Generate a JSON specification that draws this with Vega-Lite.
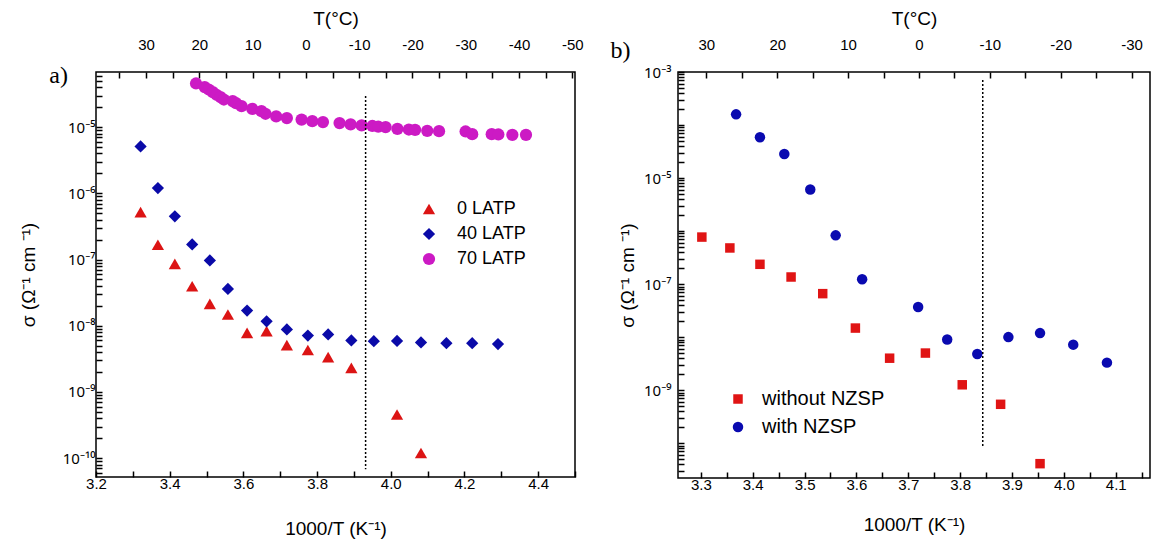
{
  "$schema": "https://vega.github.io/schema/vega-lite/v6.json",
  "padding": {"left": 18, "top": 8, "right": 0, "bottom": 5},
  "background": "white",
  "datasets": {
    "a": [
      {"x": 3.321, "sigma": 5.2e-7, "sample": "0 LATP"},
      {"x": 3.368, "sigma": 1.67e-7, "sample": "0 LATP"},
      {"x": 3.414, "sigma": 8.6e-8, "sample": "0 LATP"},
      {"x": 3.461, "sigma": 3.96e-8, "sample": "0 LATP"},
      {"x": 3.509, "sigma": 2.14e-8, "sample": "0 LATP"},
      {"x": 3.558, "sigma": 1.48e-8, "sample": "0 LATP"},
      {"x": 3.610, "sigma": 7.8e-9, "sample": "0 LATP"},
      {"x": 3.663, "sigma": 8.3e-9, "sample": "0 LATP"},
      {"x": 3.718, "sigma": 5.1e-9, "sample": "0 LATP"},
      {"x": 3.775, "sigma": 4.3e-9, "sample": "0 LATP"},
      {"x": 3.830, "sigma": 3.36e-9, "sample": "0 LATP"},
      {"x": 3.893, "sigma": 2.31e-9, "sample": "0 LATP"},
      {"x": 4.017, "sigma": 4.56e-10, "sample": "0 LATP"},
      {"x": 4.082, "sigma": 1.2e-10, "sample": "0 LATP"},
      {"x": 3.321, "sigma": 5.1e-6, "sample": "40 LATP"},
      {"x": 3.368, "sigma": 1.2e-6, "sample": "40 LATP"},
      {"x": 3.414, "sigma": 4.5e-7, "sample": "40 LATP"},
      {"x": 3.461, "sigma": 1.69e-7, "sample": "40 LATP"},
      {"x": 3.509, "sigma": 9.7e-8, "sample": "40 LATP"},
      {"x": 3.558, "sigma": 3.6e-8, "sample": "40 LATP"},
      {"x": 3.610, "sigma": 1.7e-8, "sample": "40 LATP"},
      {"x": 3.663, "sigma": 1.17e-8, "sample": "40 LATP"},
      {"x": 3.718, "sigma": 8.8e-9, "sample": "40 LATP"},
      {"x": 3.775, "sigma": 7.1e-9, "sample": "40 LATP"},
      {"x": 3.830, "sigma": 7.4e-9, "sample": "40 LATP"},
      {"x": 3.893, "sigma": 6.0e-9, "sample": "40 LATP"},
      {"x": 3.954, "sigma": 5.85e-9, "sample": "40 LATP"},
      {"x": 4.017, "sigma": 5.9e-9, "sample": "40 LATP"},
      {"x": 4.082, "sigma": 5.6e-9, "sample": "40 LATP"},
      {"x": 4.151, "sigma": 5.45e-9, "sample": "40 LATP"},
      {"x": 4.221, "sigma": 5.45e-9, "sample": "40 LATP"},
      {"x": 4.291, "sigma": 5.3e-9, "sample": "40 LATP"},
      {"x": 3.4715, "sigma": 4.56e-5, "sample": "70 LATP"},
      {"x": 3.495, "sigma": 4.02e-5, "sample": "70 LATP"},
      {"x": 3.506, "sigma": 3.70e-5, "sample": "70 LATP"},
      {"x": 3.517, "sigma": 3.37e-5, "sample": "70 LATP"},
      {"x": 3.527, "sigma": 3.08e-5, "sample": "70 LATP"},
      {"x": 3.538, "sigma": 2.84e-5, "sample": "70 LATP"},
      {"x": 3.547, "sigma": 2.61e-5, "sample": "70 LATP"},
      {"x": 3.571, "sigma": 2.47e-5, "sample": "70 LATP"},
      {"x": 3.580, "sigma": 2.30e-5, "sample": "70 LATP"},
      {"x": 3.595, "sigma": 2.07e-5, "sample": "70 LATP"},
      {"x": 3.624, "sigma": 1.89e-5, "sample": "70 LATP"},
      {"x": 3.649, "sigma": 1.74e-5, "sample": "70 LATP"},
      {"x": 3.660, "sigma": 1.59e-5, "sample": "70 LATP"},
      {"x": 3.689, "sigma": 1.45e-5, "sample": "70 LATP"},
      {"x": 3.718, "sigma": 1.37e-5, "sample": "70 LATP"},
      {"x": 3.758, "sigma": 1.30e-5, "sample": "70 LATP"},
      {"x": 3.787, "sigma": 1.23e-5, "sample": "70 LATP"},
      {"x": 3.816, "sigma": 1.19e-5, "sample": "70 LATP"},
      {"x": 3.861, "sigma": 1.15e-5, "sample": "70 LATP"},
      {"x": 3.891, "sigma": 1.10e-5, "sample": "70 LATP"},
      {"x": 3.921, "sigma": 1.06e-5, "sample": "70 LATP"},
      {"x": 3.950, "sigma": 1.04e-5, "sample": "70 LATP"},
      {"x": 3.966, "sigma": 1.02e-5, "sample": "70 LATP"},
      {"x": 3.986, "sigma": 1.00e-5, "sample": "70 LATP"},
      {"x": 4.018, "sigma": 9.4e-6, "sample": "70 LATP"},
      {"x": 4.049, "sigma": 9.2e-6, "sample": "70 LATP"},
      {"x": 4.066, "sigma": 9.1e-6, "sample": "70 LATP"},
      {"x": 4.099, "sigma": 8.8e-6, "sample": "70 LATP"},
      {"x": 4.131, "sigma": 8.7e-6, "sample": "70 LATP"},
      {"x": 4.203, "sigma": 8.6e-6, "sample": "70 LATP"},
      {"x": 4.221, "sigma": 7.83e-6, "sample": "70 LATP"},
      {"x": 4.274, "sigma": 7.83e-6, "sample": "70 LATP"},
      {"x": 4.292, "sigma": 7.74e-6, "sample": "70 LATP"},
      {"x": 4.330, "sigma": 7.65e-6, "sample": "70 LATP"},
      {"x": 4.367, "sigma": 7.65e-6, "sample": "70 LATP"}
    ],
    "b": [
      {"x": 3.302, "sigma": 7.7e-7, "series": "without NZSP"},
      {"x": 3.356, "sigma": 4.8e-7, "series": "without NZSP"},
      {"x": 3.414, "sigma": 2.36e-7, "series": "without NZSP"},
      {"x": 3.474, "sigma": 1.36e-7, "series": "without NZSP"},
      {"x": 3.535, "sigma": 6.6e-8, "series": "without NZSP"},
      {"x": 3.598, "sigma": 1.48e-8, "series": "without NZSP"},
      {"x": 3.664, "sigma": 4.0e-9, "series": "without NZSP"},
      {"x": 3.733, "sigma": 5.0e-9, "series": "without NZSP"},
      {"x": 3.804, "sigma": 1.26e-9, "series": "without NZSP"},
      {"x": 3.878, "sigma": 5.4e-10, "series": "without NZSP"},
      {"x": 3.954, "sigma": 4.1e-11, "series": "without NZSP"},
      {"x": 3.368, "sigma": 1.59e-4, "series": "with NZSP"},
      {"x": 3.414, "sigma": 5.9e-5, "series": "with NZSP"},
      {"x": 3.461, "sigma": 2.84e-5, "series": "with NZSP"},
      {"x": 3.511, "sigma": 6.1e-6, "series": "with NZSP"},
      {"x": 3.560, "sigma": 8.3e-7, "series": "with NZSP"},
      {"x": 3.611, "sigma": 1.23e-7, "series": "with NZSP"},
      {"x": 3.719, "sigma": 3.7e-8, "series": "with NZSP"},
      {"x": 3.775, "sigma": 9.0e-9, "series": "with NZSP"},
      {"x": 3.833, "sigma": 4.8e-9, "series": "with NZSP"},
      {"x": 3.893, "sigma": 1.0e-8, "series": "with NZSP"},
      {"x": 3.954, "sigma": 1.19e-8, "series": "with NZSP"},
      {"x": 4.018, "sigma": 7.2e-9, "series": "with NZSP"},
      {"x": 4.083, "sigma": 3.3e-9, "series": "with NZSP"}
    ]
  },
  "hconcat": [
    {
      "width": 479,
      "height": 405,
      "title": {"text": "a)", "anchor": "start", "frame": "bounds", "font": "Liberation Serif", "fontSize": 24, "fontWeight": "normal", "color": "black", "dx": 30, "dy": 83},
      "layer": [
        {
          "data": {"name": "a"},
          "mark": {"type": "point", "filled": true, "opacity": 1, "strokeWidth": 0},
          "encoding": {
            "x": {
              "field": "x", "type": "quantitative",
              "scale": {"domain": [3.2, 4.5], "nice": false, "zero": false},
              "axis": {
                "orient": "bottom", "title": "1000/T (K⁻¹)", "titlePadding": 28,
                "values": [3.2, 3.3, 3.4, 3.5, 3.6, 3.7, 3.8, 3.9, 4.0, 4.1, 4.2, 4.3, 4.4, 4.5],
                "labelExpr": "round(datum.value*10) % 2 == 0 ? format(datum.value, '.1f') : ''",
                "labelPadding": 5,
                "encode": {"ticks": {"update": {"y2": {"signal": "round(datum.value*10) % 2 == 0 ? -7 : -4"}}}}
              }
            },
            "y": {
              "field": "sigma", "type": "quantitative",
              "scale": {"type": "log", "domain": [5.2e-11, 6.8e-5], "nice": false},
              "axis": {
                "title": "σ (Ω⁻¹ cm ⁻¹)", "titlePadding": 24,
                "values": [6e-11, 7e-11, 8e-11, 9e-11, 1e-10, 2e-10, 3e-10, 4e-10, 5e-10, 6e-10, 7e-10, 8e-10, 9e-10, 1e-9, 2e-9, 3e-9, 4e-9, 5e-9, 6e-9, 7e-9, 8e-9, 9e-9, 1e-8, 2e-8, 3e-8, 4e-8, 5e-8, 6e-8, 7e-8, 8e-8, 9e-8, 1e-7, 2e-7, 3e-7, 4e-7, 5e-7, 6e-7, 7e-7, 8e-7, 9e-7, 1e-6, 2e-6, 3e-6, 4e-6, 5e-6, 6e-6, 7e-6, 8e-6, 9e-6, 1e-5, 2e-5, 3e-5, 4e-5, 5e-5, 6e-5],
                "labelExpr": "abs(log(datum.value)/LN10 - round(log(datum.value)/LN10)) < 0.001 ? '10⁻' + (round(-log(datum.value)/LN10) == 10 ? '¹⁰' : substring('⁰¹²³⁴⁵⁶⁷⁸⁹', round(-log(datum.value)/LN10), round(-log(datum.value)/LN10) + 1)) : ''",
                "labelPadding": 7, "labelFont": "Noto Sans", "labelFontSize": 15,
                "encode": {"ticks": {"update": {"x2": {"signal": "abs(log(datum.value)/LN10 - round(log(datum.value)/LN10)) < 0.001 ? 7 : 3.5"}}}}
              }
            },
            "color": {
              "field": "sample", "type": "nominal",
              "scale": {"domain": ["0 LATP", "40 LATP", "70 LATP"], "range": ["#dc1414", "#0a0aa8", "#cc1ac4"]},
              "legend": {"orient": "none", "legendX": 324, "legendY": 128, "title": null, "labelOffset": 19}
            },
            "shape": {
              "field": "sample", "type": "nominal",
              "scale": {"domain": ["0 LATP", "40 LATP", "70 LATP"], "range": ["triangle-up", "diamond", "circle"]},
              "legend": {"orient": "none", "legendX": 324, "legendY": 128, "title": null, "labelOffset": 19}
            },
            "size": {
              "field": "sample", "type": "nominal",
              "scale": {"domain": ["0 LATP", "40 LATP", "70 LATP"], "range": [150, 150, 100]},
              "legend": {"orient": "none", "legendX": 324, "legendY": 128, "title": null, "labelOffset": 19}
            }
          }
        },
        {
          "data": {"values": [{"T": -11.2, "lo": 6.8e-11, "hi": 2.95e-5}]},
          "mark": {"type": "rule", "color": "black", "strokeDash": [2, 2], "strokeWidth": 1.5},
          "encoding": {
            "x": {
              "field": "T", "type": "quantitative",
              "scale": {"domain": [39.4, -50.5], "nice": false, "zero": false},
              "axis": {
                "orient": "top", "title": "T(°C)", "titlePadding": 9,
                "values": [35, 30, 25, 20, 15, 10, 5, 0, -5, -10, -15, -20, -25, -30, -35, -40, -45, -50],
                "labelExpr": "datum.value % 10 == 0 ? '' + datum.value : ''",
                "labelPadding": 26,
                "encode": {"ticks": {"update": {"y2": {"signal": "datum.value % 10 == 0 ? 7 : 4"}}}}
              }
            },
            "y": {
              "field": "hi", "type": "quantitative",
              "axis": {
                "title": "σ (Ω⁻¹ cm ⁻¹)", "titlePadding": 24,
                "values": [6e-11, 7e-11, 8e-11, 9e-11, 1e-10, 2e-10, 3e-10, 4e-10, 5e-10, 6e-10, 7e-10, 8e-10, 9e-10, 1e-9, 2e-9, 3e-9, 4e-9, 5e-9, 6e-9, 7e-9, 8e-9, 9e-9, 1e-8, 2e-8, 3e-8, 4e-8, 5e-8, 6e-8, 7e-8, 8e-8, 9e-8, 1e-7, 2e-7, 3e-7, 4e-7, 5e-7, 6e-7, 7e-7, 8e-7, 9e-7, 1e-6, 2e-6, 3e-6, 4e-6, 5e-6, 6e-6, 7e-6, 8e-6, 9e-6, 1e-5, 2e-5, 3e-5, 4e-5, 5e-5, 6e-5],
                "labelExpr": "abs(log(datum.value)/LN10 - round(log(datum.value)/LN10)) < 0.001 ? '10⁻' + (round(-log(datum.value)/LN10) == 10 ? '¹⁰' : substring('⁰¹²³⁴⁵⁶⁷⁸⁹', round(-log(datum.value)/LN10), round(-log(datum.value)/LN10) + 1)) : ''",
                "labelPadding": 7, "labelFont": "Noto Sans", "labelFontSize": 15,
                "encode": {"ticks": {"update": {"x2": {"signal": "abs(log(datum.value)/LN10 - round(log(datum.value)/LN10)) < 0.001 ? 7 : 3.5"}}}}
              }
            },
            "y2": {"field": "lo"}
          }
        }
      ],
      "resolve": {"scale": {"x": "independent"}, "axis": {"x": "independent"}}
    },
    {
      "width": 472,
      "height": 406,
      "title": {"text": "b)", "anchor": "start", "frame": "bounds", "font": "Liberation Serif", "fontSize": 24, "fontWeight": "normal", "color": "black", "dx": -8, "dy": 58},
      "layer": [
        {
          "data": {"name": "b"},
          "mark": {"type": "point", "filled": true, "opacity": 1, "strokeWidth": 0},
          "encoding": {
            "x": {
              "field": "x", "type": "quantitative",
              "scale": {"domain": [3.256, 4.166], "nice": false, "zero": false},
              "axis": {
                "orient": "bottom", "title": "1000/T (K⁻¹)", "titlePadding": 23,
                "values": [3.3, 3.35, 3.4, 3.45, 3.5, 3.55, 3.6, 3.65, 3.7, 3.75, 3.8, 3.85, 3.9, 3.95, 4.0, 4.05, 4.1, 4.15],
                "labelExpr": "round(datum.value*20) % 2 == 0 ? format(datum.value, '.1f') : ''",
                "labelPadding": 5,
                "encode": {"ticks": {"update": {"y2": {"signal": "round(datum.value*20) % 2 == 0 ? -7 : -4"}}}}
              }
            },
            "y": {
              "field": "sigma", "type": "quantitative",
              "scale": {"type": "log", "domain": [2.2e-11, 1e-3], "nice": false},
              "axis": {
                "title": "σ (Ω⁻¹ cm ⁻¹)", "titlePadding": 6,
                "values": [3e-11, 4e-11, 5e-11, 6e-11, 7e-11, 8e-11, 9e-11, 1e-10, 2e-10, 3e-10, 4e-10, 5e-10, 6e-10, 7e-10, 8e-10, 9e-10, 1e-9, 2e-9, 3e-9, 4e-9, 5e-9, 6e-9, 7e-9, 8e-9, 9e-9, 1e-8, 2e-8, 3e-8, 4e-8, 5e-8, 6e-8, 7e-8, 8e-8, 9e-8, 1e-7, 2e-7, 3e-7, 4e-7, 5e-7, 6e-7, 7e-7, 8e-7, 9e-7, 1e-6, 2e-6, 3e-6, 4e-6, 5e-6, 6e-6, 7e-6, 8e-6, 9e-6, 1e-5, 2e-5, 3e-5, 4e-5, 5e-5, 6e-5, 7e-5, 8e-5, 9e-5, 1e-4, 2e-4, 3e-4, 4e-4, 5e-4, 6e-4, 7e-4, 8e-4, 9e-4, 1e-3],
                "labelExpr": "abs(log(datum.value)/LN10 - round(log(datum.value)/LN10)) < 0.001 && round(-log(datum.value)/LN10) % 2 == 1 ? '10⁻' + substring('⁰¹²³⁴⁵⁶⁷⁸⁹', round(-log(datum.value)/LN10), round(-log(datum.value)/LN10) + 1) : ''",
                "labelPadding": 13, "labelFont": "Noto Sans", "labelFontSize": 15,
                "encode": {"ticks": {"update": {"x2": {"signal": "abs(log(datum.value)/LN10 - round(log(datum.value)/LN10)) < 0.001 ? 7 : 3.5"}}}}
              }
            },
            "color": {
              "field": "series", "type": "nominal",
              "scale": {"domain": ["without NZSP", "with NZSP"], "range": ["#e01414", "#0a0ab0"]},
              "legend": {"orient": "none", "legendX": 50, "legendY": 317, "title": null, "labelFontSize": 20, "rowPadding": 8}
            },
            "shape": {
              "field": "series", "type": "nominal",
              "scale": {"domain": ["without NZSP", "with NZSP"], "range": ["square", "circle"]},
              "legend": {"orient": "none", "legendX": 50, "legendY": 317, "title": null, "labelFontSize": 20, "rowPadding": 8}
            },
            "size": {
              "field": "series", "type": "nominal",
              "scale": {"domain": ["without NZSP", "with NZSP"], "range": [90, 110]},
              "legend": {"orient": "none", "legendX": 50, "legendY": 317, "title": null, "labelFontSize": 20, "rowPadding": 8}
            }
          }
        },
        {
          "data": {"values": [{"T": -9.0, "lo": 8.3e-11, "hi": 7.1e-4}]},
          "mark": {"type": "rule", "color": "black", "strokeDash": [2, 2], "strokeWidth": 1.5},
          "encoding": {
            "x": {
              "field": "T", "type": "quantitative",
              "scale": {"domain": [34.0, -32.6], "nice": false, "zero": false},
              "axis": {
                "orient": "top", "title": "T(°C)", "titlePadding": 9,
                "values": [30, 25, 20, 15, 10, 5, 0, -5, -10, -15, -20, -25, -30],
                "labelExpr": "datum.value % 10 == 0 ? '' + datum.value : ''",
                "labelPadding": 26,
                "encode": {"ticks": {"update": {"y2": {"signal": "datum.value % 10 == 0 ? 7 : 4"}}}}
              }
            },
            "y": {
              "field": "hi", "type": "quantitative",
              "axis": {
                "title": "σ (Ω⁻¹ cm ⁻¹)", "titlePadding": 6,
                "values": [3e-11, 4e-11, 5e-11, 6e-11, 7e-11, 8e-11, 9e-11, 1e-10, 2e-10, 3e-10, 4e-10, 5e-10, 6e-10, 7e-10, 8e-10, 9e-10, 1e-9, 2e-9, 3e-9, 4e-9, 5e-9, 6e-9, 7e-9, 8e-9, 9e-9, 1e-8, 2e-8, 3e-8, 4e-8, 5e-8, 6e-8, 7e-8, 8e-8, 9e-8, 1e-7, 2e-7, 3e-7, 4e-7, 5e-7, 6e-7, 7e-7, 8e-7, 9e-7, 1e-6, 2e-6, 3e-6, 4e-6, 5e-6, 6e-6, 7e-6, 8e-6, 9e-6, 1e-5, 2e-5, 3e-5, 4e-5, 5e-5, 6e-5, 7e-5, 8e-5, 9e-5, 1e-4, 2e-4, 3e-4, 4e-4, 5e-4, 6e-4, 7e-4, 8e-4, 9e-4, 1e-3],
                "labelExpr": "abs(log(datum.value)/LN10 - round(log(datum.value)/LN10)) < 0.001 && round(-log(datum.value)/LN10) % 2 == 1 ? '10⁻' + substring('⁰¹²³⁴⁵⁶⁷⁸⁹', round(-log(datum.value)/LN10), round(-log(datum.value)/LN10) + 1) : ''",
                "labelPadding": 13, "labelFont": "Noto Sans", "labelFontSize": 15,
                "encode": {"ticks": {"update": {"x2": {"signal": "abs(log(datum.value)/LN10 - round(log(datum.value)/LN10)) < 0.001 ? 7 : 3.5"}}}}
              }
            },
            "y2": {"field": "lo"}
          }
        }
      ],
      "resolve": {"scale": {"x": "independent"}, "axis": {"x": "independent"}}
    }
  ],
  "spacing": 25,
  "resolve": {"scale": {"color": "independent", "shape": "independent", "size": "independent"}, "legend": {"color": "independent", "shape": "independent", "size": "independent"}},
  "config": {
    "font": "Liberation Sans",
    "view": {"stroke": "black", "strokeWidth": 1.5},
    "axis": {
      "domain": false, "grid": false, "ticks": true, "tickSize": -6,
      "labelFont": "Liberation Sans", "labelFontSize": 15, "labelColor": "black",
      "titleFont": "Liberation Sans", "titleFontSize": 19, "titleFontWeight": "normal", "titleColor": "black",
      "tickColor": "black", "tickWidth": 1.5, "labelOverlap": false, "labelFlush": false, "labelBound": false
    },
    "legend": {
      "labelFont": "Liberation Sans", "labelFontSize": 18, "labelColor": "black",
      "symbolStrokeWidth": 0, "rowPadding": 7, "labelOffset": 14, "labelLimit": 300
    }
  }
}
